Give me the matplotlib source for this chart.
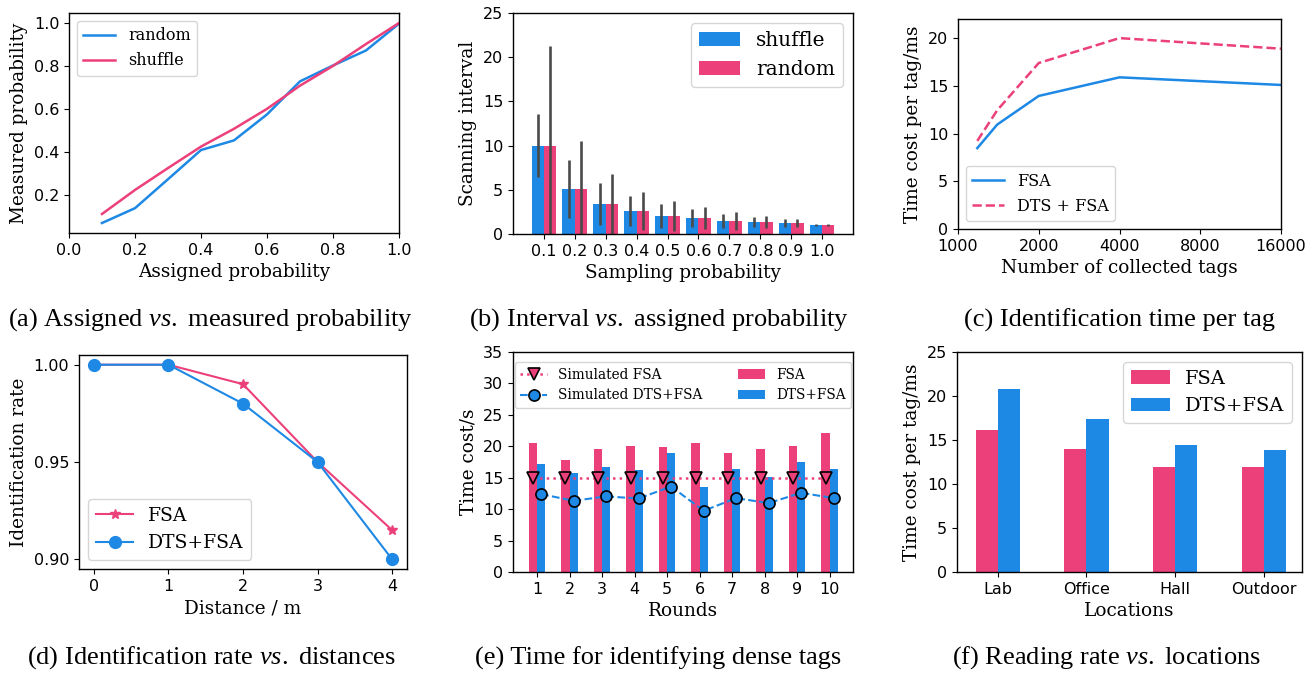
import matplotlib
matplotlib.use("Agg")
import matplotlib.pyplot as plt
import numpy as np

BLUE = "#1E88E5"
PINK = "#EC407A"

# (a)
assigned = [0.1, 0.2, 0.3, 0.4, 0.5, 0.6, 0.7, 0.8, 0.9, 1.0]
meas_random = [0.068, 0.137, 0.272, 0.408, 0.453, 0.574, 0.728, 0.802, 0.872, 0.997]
meas_shuffle = [0.11, 0.222, 0.324, 0.424, 0.507, 0.60, 0.708, 0.80, 0.902, 1.0]

# (b)
sampling = [0.1, 0.2, 0.3, 0.4, 0.5, 0.6, 0.7, 0.8, 0.9, 1.0]
sampling_labels = ["0.1", "0.2", "0.3", "0.4", "0.5", "0.6", "0.7", "0.8", "0.9", "1.0"]
interval_shuffle = [10.0, 5.1, 3.4, 2.6, 2.04, 1.81, 1.47, 1.36, 1.25, 1.02]
interval_random = [10.0, 5.1, 3.4, 2.6, 2.04, 1.81, 1.47, 1.36, 1.25, 1.02]
err_shuffle = [3.6, 3.25, 2.4, 1.7, 1.35, 1.05, 0.8, 0.6, 0.43, 0.06]
err_random = [11.3, 5.44, 3.36, 2.2, 1.65, 1.3, 1.0, 0.7, 0.48, 0.06]

# (c)
tags = [1180, 1400, 2000, 4000, 16000]
tag_ticks = [1000, 2000, 4000, 8000, 16000]
time_fsa = [8.47, 10.94, 13.94, 15.89, 15.09]
time_dts = [9.23, 12.44, 17.39, 20.0, 18.89]

# (d)
distance = [0, 1, 2, 3, 4]
rate_fsa = [1.0, 1.0, 0.99, 0.95, 0.915]
rate_dts = [1.0, 1.0, 0.98, 0.95, 0.90]

# (e)
rounds = [1, 2, 3, 4, 5, 6, 7, 8, 9, 10]
round_fsa = [20.54, 17.84, 19.59, 20.06, 19.9, 20.54, 18.95, 19.59, 20.06, 22.13]
round_dts = [17.2, 15.78, 16.73, 16.25, 18.95, 13.55, 16.41, 15.14, 17.52, 16.41]
sim_fsa = [15, 15, 15, 15, 15, 15, 15, 15, 15, 15]
sim_dts = [12.39, 11.33, 12.02, 11.7, 13.6, 9.74, 11.75, 10.96, 12.6, 11.75]

# (f)
locations = ["Lab", "Office", "Hall", "Outdoor"]
loc_fsa = [16.13, 13.97, 11.93, 11.93]
loc_dts = [20.77, 17.37, 14.43, 13.86]

plt.rcParams["font.family"] = "DejaVu Sans"
plt.rcParams["mathtext.fontset"] = "custom"
plt.rcParams["mathtext.rm"] = "Liberation Serif"
plt.rcParams["mathtext.it"] = "Liberation Serif:italic"

W, H = 1310, 673
fig = plt.figure(figsize=(W / 100, H / 100), dpi=100)

def rect(l, r, t, b):
    return [l / W, 1 - b / H, (r - l) / W, (b - t) / H]

LAB = dict(family="DejaVu Serif", fontsize=13.3)
TICK = 11.5
CAP = dict(family="Liberation Serif", fontsize=19)

def style(ax):
    ax.tick_params(labelsize=TICK)
    for s in ax.spines.values():
        s.set_linewidth(1.0)

# ---- (a)
ax = fig.add_axes(rect(69, 399, 13, 233))
ax.plot(assigned, meas_random, color=BLUE, lw=1.8, label="random")
ax.plot(assigned, meas_shuffle, color=PINK, lw=1.8, label="shuffle")
ax.set_xlim(0, 1.0)
ax.set_yticks([0.2, 0.4, 0.6, 0.8, 1.0])
ax.set_xlabel("Assigned probability", **LAB)
ax.set_ylabel("Measured probability", **LAB)
ax.legend(loc="upper left", prop=dict(family="DejaVu Serif", size=11.5))
style(ax)

# ---- (b)
ax = fig.add_axes(rect(513, 853, 13, 234))
x = np.array(sampling)
ax.bar(x - 0.02, interval_shuffle, width=0.04, color=BLUE, label="shuffle")
ax.bar(x + 0.02, interval_random, width=0.04, color=PINK, label="random")
ax.errorbar(x - 0.02, interval_shuffle, yerr=err_shuffle, fmt="none", ecolor="#4a4a4a", elinewidth=1.9)
ax.errorbar(x + 0.02, interval_random, yerr=err_random, fmt="none", ecolor="#4a4a4a", elinewidth=1.9)
ax.set_xticks(x)
ax.set_xticklabels(sampling_labels)
ax.set_xlim(0, 1.1)
ax.set_ylim(0, 25)
ax.set_xlabel("Sampling probability", **LAB)
ax.set_ylabel("Scanning interval", **LAB)
ax.legend(loc="upper right", prop=dict(family="DejaVu Serif", size=14.5), handlelength=2.0)
style(ax)

# ---- (c)
ax = fig.add_axes(rect(958, 1281, 19, 229))
ax.plot(tags, time_fsa, color=BLUE, lw=1.8, label="FSA")
ax.plot(tags, time_dts, color=PINK, lw=1.8, ls="--", label="DTS + FSA")
ax.set_xscale("log", base=2)
ax.set_xlim(1000, 16000)
ax.set_xticks(tag_ticks)
ax.set_xticklabels([str(t) for t in tag_ticks])
ax.minorticks_off()
ax.set_ylim(0, 22)
ax.set_yticks([0, 5, 10, 15, 20])
ax.set_xlabel("Number of collected tags", **LAB)
ax.set_ylabel("Time cost per tag/ms", **LAB)
ax.legend(loc="lower left", prop=dict(family="DejaVu Serif", size=11.5))
style(ax)

# ---- (d)
ax = fig.add_axes(rect(79, 407, 355, 569))
ax.plot(distance, rate_fsa, color=PINK, lw=1.5, marker="*", ms=7, label="FSA")
ax.plot(distance, rate_dts, color=BLUE, lw=1.5, marker="o", ms=8.5, label="DTS+FSA")
ax.set_xticks(distance)
ax.set_yticks([0.90, 0.95, 1.00])
ax.set_yticklabels(["0.90", "0.95", "1.00"])
ax.set_xlabel("Distance / m", **LAB)
ax.set_ylabel("Identification rate", **LAB)
ax.legend(loc="lower left", prop=dict(family="DejaVu Serif", size=13.5))
style(ax)

# ---- (e)
ax = fig.add_axes(rect(513, 853, 352, 572))
r = np.array(rounds)
bw = 0.25
ax.bar(r - bw / 2, round_fsa, width=bw, color=PINK, label="FSA")
ax.bar(r + bw / 2, round_dts, width=bw, color=BLUE, label="DTS+FSA")
ax.plot(r - bw / 2, sim_fsa, color=PINK, ls=":", lw=1.8, marker="v", ms=8,
        mfc=PINK, mec="black", mew=1.2, label="Simulated FSA")
ax.plot(r + bw / 2, sim_dts, color=BLUE, ls="--", lw=1.5, marker="o", ms=8,
        mfc=BLUE, mec="black", mew=1.2, label="Simulated DTS+FSA")
ax.set_xticks(rounds)
ax.set_xlim(0.26, 10.72)
ax.set_ylim(0, 35)
ax.set_yticks([0, 5, 10, 15, 20, 25, 30, 35])
ax.set_xlabel("Rounds", **LAB)
ax.set_ylabel("Time cost/s", **LAB)
h, l = ax.get_legend_handles_labels()
want = ["Simulated FSA", "Simulated DTS+FSA", "FSA", "DTS+FSA"]
hh = [h[l.index(w)] for w in want]
ax.legend(hh, want, ncol=2, loc="upper center", bbox_to_anchor=(0.5, 0.985),
          prop=dict(family="DejaVu Serif", size=9.8), columnspacing=2.6,
          handlelength=2.0)
style(ax)

# ---- (f)
ax = fig.add_axes(rect(957, 1302, 352, 572))
xl = np.arange(len(locations))
ax.bar(xl - 0.125, loc_fsa, width=0.25, color=PINK, label="FSA")
ax.bar(xl + 0.125, loc_dts, width=0.25, color=BLUE, label="DTS+FSA")
ax.set_xticks(xl)
ax.set_xticklabels(locations)
ax.set_xlim(-0.46, 3.43)
ax.set_ylim(0, 25)
ax.set_xlabel("Locations", **LAB)
ax.set_ylabel("Time cost per tag/ms", **LAB)
ax.legend(loc="upper right", prop=dict(family="DejaVu Serif", size=14))
style(ax)

# captions
fig.text(210 / W, 1 - 320 / H, "(a) Assigned $\\mathit{vs.}$ measured probability", ha="center", va="center", **CAP)
fig.text(659 / W, 1 - 320 / H, "(b) Interval $\\mathit{vs.}$ assigned probability", ha="center", va="center", **CAP)
fig.text(1119 / W, 1 - 320 / H, "(c) Identification time per tag", ha="center", va="center", **CAP)
fig.text(211 / W, 1 - 658 / H, "(d) Identification rate $\\mathit{vs.}$ distances", ha="center", va="center", **CAP)
fig.text(658 / W, 1 - 658 / H, "(e) Time for identifying dense tags", ha="center", va="center", **CAP)
fig.text(1106 / W, 1 - 658 / H, "(f) Reading rate $\\mathit{vs.}$ locations", ha="center", va="center", **CAP)

fig.savefig("out.png", dpi=100)
